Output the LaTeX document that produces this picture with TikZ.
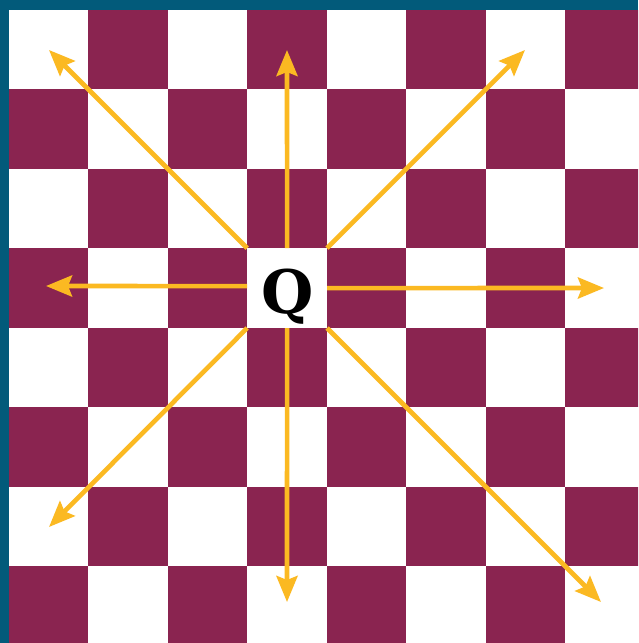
\documentclass[tikz,border=0pt]{standalone}
\usepackage{fontspec}
\newfontfamily\qfont{DejaVu Serif}
\usetikzlibrary{arrows.meta}
\definecolor{boardpurple}{HTML}{8A2450}
\definecolor{frameblue}{HTML}{025A7A}
\definecolor{arroworange}{HTML}{FBB922}
\tikzset{
  move/.style={draw=arroworange, line width=4.6pt,
    -{Stealth[length=26pt,width=21pt,inset=4pt]}},
  queen/.style={minimum width=79.4pt, minimum height=79.4pt, inner sep=0pt,
    font=\qfont\bfseries\fontsize{60}{60}\selectfont, text=black}
}
\begin{document}
\begin{tikzpicture}[x=1pt,y=-1pt]
\useasboundingbox (0,0) rectangle (638,643);
\fill[frameblue] (0,0) rectangle (638,643);
\begin{scope}
\clip (9,10) rectangle (638,643);
\fill[white] (9,10) rectangle (650,650);
\foreach \i in {0,...,7}{
  \foreach \j in {0,...,7}{
    \pgfmathtruncatemacro{\odd}{mod(\i+\j,2)}
    \ifnum\odd=1
      \fill[boardpurple] ({9+\i*79.45},{10+\j*79.45}) rectangle ({9+(\i+1)*79.45},{10+(\j+1)*79.45});
    \fi
  }
}
\end{scope}
\fill[white] (247.35,248.35) rectangle (326.8,327.8);
\node[queen] (Q) at (287.1,288.1) {};
\node[font=\qfont\bfseries\fontsize{60}{60}\selectfont, inner sep=0pt, anchor=base] (Qt) at (287.5,313) {Q};
\coordinate (tNW) at (49,50);
\coordinate (tN)  at (287,50);
\coordinate (tNE) at (525,50);
\coordinate (tW)  at (46,286);
\coordinate (tE)  at (604,288);
\coordinate (tSW) at (49,527);
\coordinate (tS)  at (287,602);
\coordinate (tSE) at (601,602);
\draw[move] (Q.north west) -- (tNW);
\draw[move] (Q.north) -- (tN);
\draw[move] (Q.north east) -- (tNE);
\draw[move] ([yshift=2pt]Q.west) -- (tW);
\draw[move] (Q.east) -- (tE);
\draw[move] (Q.south west) -- (tSW);
\draw[move] (Q.south) -- (tS);
\draw[move] (Q.south east) -- (tSE);
\end{tikzpicture}
\end{document}
